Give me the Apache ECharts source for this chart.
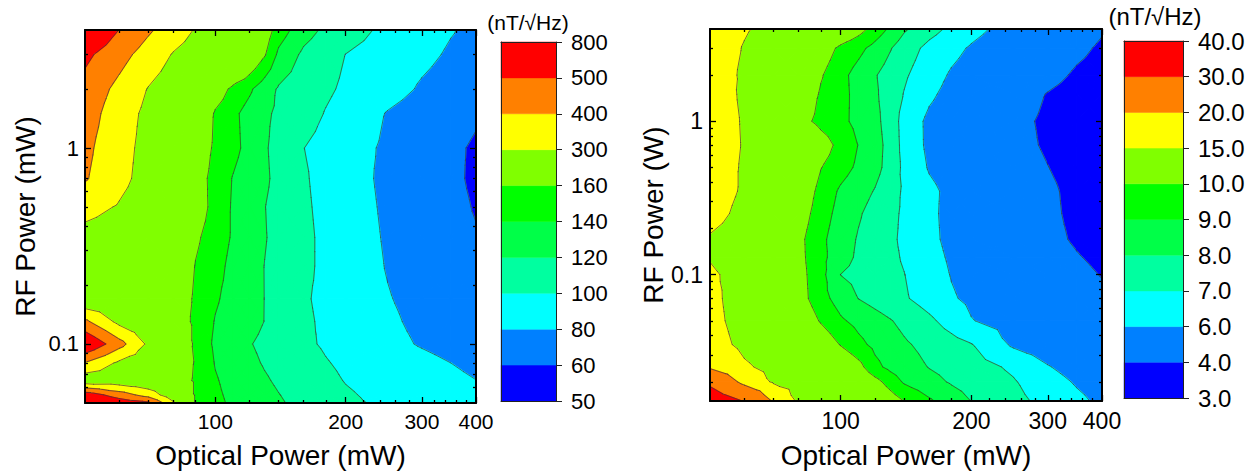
<!DOCTYPE html>
<html><head><meta charset="utf-8">
<script src="https://cdn.jsdelivr.net/npm/echarts@6/dist/echarts.min.js"></script>
<style>html,body{margin:0;padding:0;background:#fff}#c{width:1255px;height:474px}</style>
</head><body><div id="c"></div>
<script>
const FONT = '"Liberation Sans", Arial, Helvetica, sans-serif';

// ---------- Left panel: noise (nT/√Hz) vs optical power (mW) and RF power (mW)
const opticalL = [50,60,70,80,90,100,110,120,130,140,160,180,200,250,300,350,400];
const rfL = [4,3,2,1.5,1,0.7,0.5,0.35,0.25,0.17,0.13,0.1,0.08,0.065,0.055,0.05];
const noiseL = [
  [620,498,414,348,294,260,228,199,173,150,128,116,109,95,87,81,76],
  [523,435,358,294,262,233,207,183,162,136,116,107,99.8,91,84,78,75],
  [465,374,296,251,211,175,154,143,129,118,110,103,97,87,78,73,68],
  [446,347,277,231,190,157,144,133,123,117,108,99,93,79,72,67,62],
  [423,334,270,223,181,155,145,134,122,114,100.2,94,88,77,70,63,58],
  [409,326,265,216,173,151,139,130,123,115,102,94,88,76,69,63,57.5],
  [330,293,248,209,175,151,138,129,120.4,114,103,95,89,77,70,64,59],
  [270,250,220,190,164,149,138,129,121,115,104,96,90,78,71,65,61],
  [260,240,212,186,159,146,135,127,119.7,114,104,96,91,79,72,66,62],
  [210,215,200,180,156,142,134,126,119.8,113,102,96,91,81,74.5,68,63],
  [420,274,225,183,153,139,132,126,119.7,114,103,97,92.5,83,76,70.5,66],
  [600,435,282,206,153,137,129,121,116,111,103,98,94,85,78.5,74,70],
  [395,282,233,192,157,139,132,124,118.5,114.5,107,101,97,90,85,80,76],
  [230,235,215,185,155,141.5,134,128,122,117.5,110.5,104,99.3,93,88,84,80.2],
  [560,450,359,234,155,143,136,130,125,120.5,113,107,102,95,91,87.5,84.5],
  [650,560,520,315,155,144,137,131,127,122,115,109,103,97,93,90,87]
];
const levelsL = [50,60,80,100,120,140,160,300,400,500,800];
const cbLabelsL = ['50','60','80','100','120','140','160','300','400','500','800'];

// ---------- Right panel: noise (nT/√Hz) vs optical power (mW) and RF power (W)
const opticalR = [50,60,70,80,90,100,110,120,130,140,160,180,200,250,300,350,400];
const rfR = [4,3,2,1.5,1,0.7,0.5,0.35,0.25,0.17,0.13,0.1,0.07,0.05,0.035,0.025,0.02,0.015];
const noiseR = [
  [17,15.3,14,12.9,12,11.1,10.4,9.58,8.83,8.13,7.36,6.78,6.32,5.54,4.98,4.51,4.1],
  [17,14.8,13.2,11.85,10.65,9.77,9.26,8.68,8.07,7.49,6.73,6.27,5.9,5.24,4.7,4.24,3.85],
  [17,14.45,12.8,11.35,10.1,9.28,8.64,8.07,7.58,7.13,6.43,5.89,5.58,4.9,4.35,3.85,3.6],
  [17.5,14.3,12.6,11.06,9.87,9.28,8.71,8.14,7.54,6.96,6.17,5.69,5.33,4.57,3.95,3.6,3.4],
  [17.5,14.6,12.4,10.5,9.66,9.21,8.76,8.27,7.55,6.64,5.79,5.4,5.06,4.32,3.8,3.5,3.3],
  [17.5,14.7,13.1,11.8,10.6,9.64,8.97,8.38,7.66,6.67,5.8,5.43,5.1,4.4,3.85,3.5,3.3],
  [17.5,14.5,12.8,11.3,10.04,9.38,8.82,8.31,7.63,6.78,5.92,5.56,5.25,4.57,4.02,3.6,3.35],
  [17,14.5,12.6,10.96,9.66,8.85,8.39,7.94,7.37,6.88,6.21,5.76,5.44,4.76,4.2,3.7,3.4],
  [16.5,13.85,12.1,10.63,9.45,8.66,8.1,7.64,7.24,6.86,6.18,5.75,5.44,4.77,4.23,3.75,3.45],
  [14.6,12.94,11.53,10.3,9.22,8.47,7.91,7.52,7.17,6.83,6.21,5.78,5.48,4.84,4.31,3.86,3.5],
  [14.8,13.07,11.6,10.32,9.29,8.41,7.83,7.5,7.2,6.91,6.32,5.87,5.59,4.98,4.49,4.07,3.75],
  [15.5,13.77,11.98,10.41,9.33,7.99,7.72,7.46,7.23,7.02,6.44,5.96,5.69,5.13,4.68,4.29,3.95],
  [15.8,13.57,11.92,10.49,9.37,8.57,7.98,7.66,7.38,7.11,6.58,6.09,5.82,5.3,4.9,4.55,4.25],
  [16,13.73,12.26,10.98,9.9,9.14,8.71,8.37,8.06,7.75,7.19,6.6,6.04,5.6,5.2,4.85,4.55],
  [16.5,14.18,12.9,11.78,10.81,9.94,9.25,8.77,8.44,8.13,7.7,7.35,7.04,5.85,5.45,5.1,4.8],
  [19,15.5,13.97,12.9,11.95,11.1,10.35,9.26,8.75,8.45,7.96,7.68,7.43,6.83,6.06,5.6,5.2],
  [28,18,14.58,13.53,12.6,11.8,11.05,10.36,9.58,8.88,8.33,7.9,7.64,7.08,6.41,5.9,5.6],
  [36,29.6,19.3,14.36,13.44,12.6,11.88,11.18,10.56,9.98,9.14,8.51,7.98,7.28,6.7,6.21,5.8]
];
const levelsR = [3,4,6,7,8,9,10,15,20,30,40];
const cbLabelsR = ['3.0','4.0','6.0','7.0','8.0','9.0','10.0','15.0','20.0','30.0','40.0'];

const bandColors = ['#0000FF','#0080FF','#00FFFF','#00FFA0','#00FF48','#00FF00','#80FF00','#FFFF00','#FF8000','#FF0000'];

// tick values
const xMajor = [100,200,300,400];
const xMinor = [60,70,80,90,120,140,160,180,220,240,260,280,320,340,360,380];
const yMajor = [0.1,1];
const yMinorL = [0.06,0.07,0.08,0.09,0.2,0.3,0.4,0.5,0.6,0.7,0.8,0.9,2,3];
const yMinorR = [0.02,0.03,0.04,0.05,0.06,0.07,0.08,0.09,0.2,0.3,0.4,0.5,0.6,0.7,0.8,0.9,2,3];

const L10 = Math.log10;
const fmtLog = v => { const x = Math.pow(10, v); return x >= 1 ? String(Math.round(x)) : String(+x.toPrecision(2)); };

function clip(poly, lv, above) {
  const out = [];
  const n = poly.length;
  for (let k = 0; k < n; k++) {
    const a = poly[k], b = poly[(k + 1) % n];
    const ina = above ? a[2] >= lv : a[2] <= lv;
    const inb = above ? b[2] >= lv : b[2] <= lv;
    if (ina) out.push(a);
    if (ina !== inb) {
      const t = (lv - a[2]) / (b[2] - a[2]);
      out.push([a[0] + t * (b[0] - a[0]), a[1] + t * (b[1] - a[1]), lv]);
    }
  }
  return out;
}
function segment(tri, lv) {
  const pts = [];
  for (let k = 0; k < 3; k++) {
    const a = tri[k], b = tri[(k + 1) % 3];
    const da = a[2] - lv, db = b[2] - lv;
    if ((da < 0) !== (db < 0)) {
      const t = da / (da - db);
      pts.push([a[0] + t * (b[0] - a[0]), a[1] + t * (b[1] - a[1])]);
    }
  }
  return pts.length === 2 ? pts : null;
}
function makeRenderer(xs, ys, Z, levels) {
  return function (params, api) {
    const i = api.value(4), j = api.value(5);
    const P = (a, b) => { const p = api.coord([L10(xs[a]), L10(ys[b])]); return [p[0], p[1], Z[b][a]]; };
    const c00 = P(i, j), c10 = P(i + 1, j), c11 = P(i + 1, j + 1), c01 = P(i, j + 1);
    const cen = [0, 1, 2].map(k => (c00[k] + c10[k] + c11[k] + c01[k]) / 4);
    const tris = [[c00, c10, cen], [c10, c11, cen], [c11, c01, cen], [c01, c00, cen]];
    const children = [];
    for (const tri of tris) {
      for (let b = 0; b < bandColors.length; b++) {
        let poly = tri;
        if (b > 0) poly = clip(poly, levels[b], true);
        if (poly.length >= 3 && b < bandColors.length - 1) poly = clip(poly, levels[b + 1], false);
        if (poly.length >= 3) {
          children.push({ type: 'polygon', z2: 1, shape: { points: poly.map(p => [p[0], p[1]]) },
            style: { fill: bandColors[b], stroke: bandColors[b], lineWidth: 1.3, lineJoin: 'round' } });
        }
      }
      for (let l = 1; l < levels.length - 1; l++) {
        const s = segment(tri, levels[l]);
        if (s) children.push({ type: 'line', z2: 5, shape: { x1: s[0][0], y1: s[0][1], x2: s[1][0], y2: s[1][1] },
          style: { stroke: '#3c3c3c', lineWidth: 0.7, lineCap: 'round' } });
      }
    }
    return { type: 'group', children };
  };
}
function cells(xs, ys) {
  const out = [];
  for (let j = 0; j < ys.length - 1; j++)
    for (let i = 0; i < xs.length - 1; i++)
      out.push([L10(xs[i]), L10(ys[j]), L10(xs[i + 1]), L10(ys[j + 1]), i, j]);
  return out;
}

function axisSet(dim, gi, min, max, major, minor, labelCfg, nameCfg) {
  const base = { gridIndex: gi, type: 'value', min, max, splitLine: { show: false }, z: 10, silent: true };
  const posA = dim === 'x' ? 'bottom' : 'left', posB = dim === 'x' ? 'top' : 'right';
  const ts = { color: '#000', width: 1.3 };
  const line = { show: true, onZero: false, lineStyle: { color: '#000', width: 2 } };
  const noLine = { show: false, onZero: false };
  return [
    Object.assign({}, base, { position: posA, axisLine: line, axisTick: { show: true, inside: true, length: 6, customValues: major, lineStyle: ts }, axisLabel: labelCfg }, nameCfg),
    Object.assign({}, base, { position: posA, axisLine: noLine, axisTick: { show: true, inside: true, length: 3, customValues: minor, lineStyle: ts }, axisLabel: { show: false } }),
    Object.assign({}, base, { position: posB, axisLine: line, axisTick: { show: true, inside: true, length: 6, customValues: major, lineStyle: ts }, axisLabel: { show: false } }),
    Object.assign({}, base, { position: posB, axisLine: noLine, axisTick: { show: true, inside: true, length: 3, customValues: minor, lineStyle: ts }, axisLabel: { show: false } })
  ];
}
function lab(values, fs, margin) {
  return { show: true, customValues: values, formatter: fmtLog, fontSize: fs, color: '#000', fontFamily: FONT, margin };
}
function nm(text, gap, fs) {
  return { name: text, nameLocation: 'middle', nameGap: gap, nameTextStyle: { fontSize: fs, color: '#000', fontFamily: FONT } };
}
function cbAxes(gi, labels, fs) {
  const base = { gridIndex: gi, type: 'value', splitLine: { show: false }, z: 10, silent: true };
  const line = { show: true, onZero: false, lineStyle: { color: '#222', width: 1 } };
  const idx = labels.map((_, k) => k);
  return {
    x: [
      Object.assign({}, base, { min: 0, max: 1, position: 'bottom', axisLine: line, axisTick: { show: false }, axisLabel: { show: false } }),
      Object.assign({}, base, { min: 0, max: 1, position: 'top', axisLine: line, axisTick: { show: false }, axisLabel: { show: false } })
    ],
    y: [
      Object.assign({}, base, { min: 0, max: labels.length - 1, position: 'right', axisLine: line,
        axisTick: { show: true, inside: false, length: 6, customValues: idx, lineStyle: { color: '#222', width: 1 } },
        axisLabel: { show: true, customValues: idx, formatter: v => labels[Math.round(v)], fontSize: fs, color: '#000', fontFamily: FONT, margin: 15 } }),
      Object.assign({}, base, { min: 0, max: labels.length - 1, position: 'left', axisLine: line, axisTick: { show: false }, axisLabel: { show: false } })
    ]
  };
}
function cbRender(params, api) {
  const k = api.value(1);
  const p0 = api.coord([0, k]), p1 = api.coord([1, k + 1]);
  return { type: 'rect', shape: { x: p0[0], y: p1[1], width: p1[0] - p0[0], height: p0[1] - p1[1] },
    style: { fill: bandColors[k], stroke: bandColors[k], lineWidth: 0.5 } };
}

const xL = axisSet('x', 0, L10(50), L10(400), xMajor.map(L10), xMinor.map(L10), lab(xMajor.map(L10), 21, 8), nm('Optical Power (mW)', 38, 28));
const yL = axisSet('y', 0, L10(0.05), L10(4), yMajor.map(L10), yMinorL.map(L10), lab(yMajor.map(L10), 22, 6), nm('RF Power (mW)', 46, 28));
const xR = axisSet('x', 1, L10(50), L10(400), xMajor.map(L10), xMinor.map(L10), lab(xMajor.map(L10), 23, 8), nm('Optical Power (mW)', 40, 28));
const yR = axisSet('y', 1, L10(0.015), L10(4), yMajor.map(L10), yMinorR.map(L10), lab(yMajor.map(L10), 23, 7), nm('RF Power (W)', 39, 28));
const cbL = cbAxes(2, cbLabelsL, 22);
const cbR = cbAxes(3, cbLabelsR, 24);

const chart = echarts.init(document.getElementById('c'), null, { renderer: 'svg' });
chart.setOption({
  animation: false,
  backgroundColor: '#fff',
  textStyle: { fontFamily: FONT },
  grid: [
    { left: 85, top: 30, width: 391, height: 376 },
    { left: 710, top: 29, width: 392, height: 375 },
    { left: 501, top: 42, width: 55, height: 359 },
    { left: 1124, top: 41, width: 59, height: 357 }
  ],
  xAxis: [].concat(xL, xR, cbL.x, cbR.x),
  yAxis: [].concat(yL, yR, cbL.y, cbR.y),
  graphic: [
    { type: 'text', x: 528, y: 22, style: { text: '(nT/√Hz)', font: '21px ' + FONT, fill: '#000', textAlign: 'center', textVerticalAlign: 'middle' } },
    { type: 'text', x: 1155, y: 16, style: { text: '(nT/√Hz)', font: '24px ' + FONT, fill: '#000', textAlign: 'center', textVerticalAlign: 'middle' } }
  ],
  series: [
    { type: 'custom', coordinateSystem: 'cartesian2d', xAxisIndex: 0, yAxisIndex: 0, data: cells(opticalL, rfL),
      encode: { x: [0, 2], y: [1, 3] }, renderItem: makeRenderer(opticalL, rfL, noiseL, levelsL), silent: true, z: 2, clip: true },
    { type: 'custom', coordinateSystem: 'cartesian2d', xAxisIndex: 4, yAxisIndex: 4, data: cells(opticalR, rfR),
      encode: { x: [0, 2], y: [1, 3] }, renderItem: makeRenderer(opticalR, rfR, noiseR, levelsR), silent: true, z: 2, clip: true },
    { type: 'custom', coordinateSystem: 'cartesian2d', xAxisIndex: 8, yAxisIndex: 8, data: cbLabelsL.slice(1).map((_, k) => [0, k]),
      renderItem: cbRender, silent: true, z: 2 },
    { type: 'custom', coordinateSystem: 'cartesian2d', xAxisIndex: 10, yAxisIndex: 10, data: cbLabelsR.slice(1).map((_, k) => [0, k]),
      renderItem: cbRender, silent: true, z: 2 }
  ]
});
</script>
</body></html>
